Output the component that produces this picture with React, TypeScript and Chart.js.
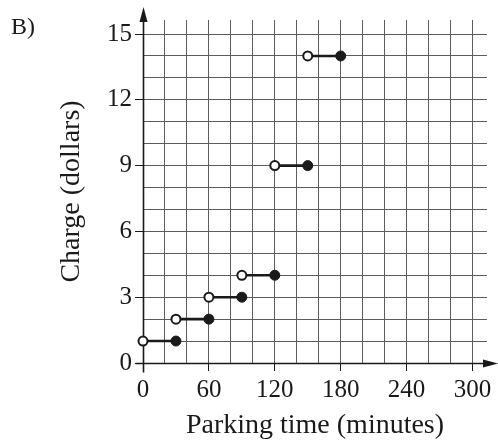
import React, { useEffect, useRef } from 'react';
import { Chart, registerables } from 'chart.js';

Chart.register(...registerables);

// ---- data ----
const startMinutes = [0, 30, 60, 90, 120, 150];
const endMinutes = [30, 60, 90, 120, 150, 180];
const charges = [1, 2, 3, 4, 9, 14];
const xTickLabels = [0, 60, 120, 180, 240, 300];
const yTickLabels = [0, 3, 6, 9, 12, 15];
const xGridStep = 20;
const yGridStep = 1;
const xGridLast = 300;
const yGridLast = 15;
const xMax = 313.2;
const yMax = 15.64;
const xTitle = 'Parking time (minutes)';
const yTitle = 'Charge (dollars)';
const panelLabel = 'B)';

const SERIF = '"Liberation Serif", "Times New Roman", serif';
const INK = '#1a1a1a';
const GRID = '#5c5c5c';

const axesPlugin = {
  id: 'axesArrows',
  beforeDatasetsDraw(chart: any) {
    const { ctx } = chart;
    const xs = chart.scales.x;
    const ys = chart.scales.y;
    const x0 = Math.round(xs.getPixelForValue(0)) + 0.5;
    const y0 = Math.round(ys.getPixelForValue(0)) + 0.5;
    ctx.save();
    ctx.strokeStyle = INK;
    ctx.fillStyle = INK;
    ctx.lineWidth = 1.6;
    // y axis
    ctx.beginPath();
    ctx.moveTo(x0, y0 + 9);
    ctx.lineTo(x0, 18);
    ctx.stroke();
    ctx.beginPath();
    ctx.moveTo(x0, 7);
    ctx.lineTo(x0 - 4, 22);
    ctx.lineTo(x0 + 4, 22);
    ctx.closePath();
    ctx.fill();
    // x axis
    ctx.beginPath();
    ctx.moveTo(x0 - 8, y0);
    ctx.lineTo(488, y0);
    ctx.stroke();
    ctx.beginPath();
    ctx.moveTo(498, y0);
    ctx.lineTo(483, y0 - 4);
    ctx.lineTo(483, y0 + 4);
    ctx.closePath();
    ctx.fill();
    ctx.restore();
  },
  afterDraw(chart: any) {
    const { ctx } = chart;
    ctx.save();
    ctx.fillStyle = INK;
    ctx.font = `24px ${SERIF}`;
    ctx.textBaseline = 'alphabetic';
    ctx.textAlign = 'left';
    ctx.fillText(panelLabel, 11, 34);
    ctx.restore();
  },
};

function gridTicks(step: number, last: number) {
  const out: any[] = [];
  for (let v = 0; v <= last + 1e-9; v += step) out.push({ value: Math.round(v * 1000) / 1000 });
  return out;
}

export default function App() {
  const ref = useRef<HTMLCanvasElement | null>(null);

  useEffect(() => {
    if (!ref.current) return;
    const segData: any[] = [];
    startMinutes.forEach((s, i) => {
      segData.push({ x: s, y: charges[i] });
      segData.push({ x: endMinutes[i], y: charges[i] });
      segData.push({ x: endMinutes[i], y: null });
    });
    const openPts = startMinutes.map((s, i) => ({ x: s, y: charges[i] }));
    const closedPts = endMinutes.map((e, i) => ({ x: e, y: charges[i] }));

    const chart = new Chart(ref.current, {
      type: 'line',
      data: {
        datasets: [
          {
            data: closedPts,
            showLine: false,
            pointRadius: 5,
            pointBackgroundColor: INK,
            pointBorderColor: INK,
            pointBorderWidth: 1,
            clip: false,
            order: 1,
          },
          {
            data: openPts,
            showLine: false,
            pointRadius: 4.5,
            pointBackgroundColor: '#ffffff',
            pointBorderColor: INK,
            pointBorderWidth: 2,
            clip: false,
            order: 1,
          },
          {
            data: segData,
            borderColor: INK,
            borderWidth: 2.6,
            pointRadius: 0,
            spanGaps: false,
            clip: false,
            order: 3,
          },
        ],
      },
      options: {
        responsive: false,
        animation: false,
        layout: { padding: { top: 20, right: 11, left: 0, bottom: 0 } },
        plugins: {
          legend: { display: false },
          tooltip: { enabled: false },
        },
        scales: {
          x: {
            type: 'linear',
            min: 0,
            max: xMax,
            border: { display: false },
            grid: {
              color: GRID,
              lineWidth: 1,
              tickLength: 8,
              tickColor: (c: any) => (xTickLabels.includes(c.tick?.value) ? INK : 'rgba(0,0,0,0)'),
            },
            ticks: {
              autoSkip: false,
              maxRotation: 0,
              color: INK,
              padding: 4,
              font: { family: SERIF, size: 25 },
              callback: (v: any) => (xTickLabels.includes(v) ? String(v) : ''),
            },
            afterBuildTicks: (s: any) => {
              s.ticks = gridTicks(xGridStep, xGridLast);
            },
            afterFit: (s: any) => {
              s.height = 79;
            },
            title: {
              display: true,
              text: xTitle,
              color: INK,
              font: { family: SERIF, size: 28 },
              padding: { top: -2, bottom: 0 },
            },
          },
          y: {
            type: 'linear',
            min: 0,
            max: yMax,
            border: { display: false },
            grid: {
              color: GRID,
              lineWidth: 1,
              tickLength: 8,
              tickColor: (c: any) => (yTickLabels.includes(c.tick?.value) ? INK : 'rgba(0,0,0,0)'),
            },
            ticks: {
              autoSkip: false,
              color: INK,
              padding: 3,
              font: { family: SERIF, size: 25 },
              callback: (v: any) => (yTickLabels.includes(v) ? String(v) : ''),
            },
            afterBuildTicks: (s: any) => {
              s.ticks = gridTicks(yGridStep, yGridLast);
            },
            afterFit: (s: any) => {
              s.width = 143;
            },
            title: {
              display: true,
              text: yTitle,
              color: INK,
              font: { family: SERIF, size: 28 },
              padding: { top: 55, bottom: 0 },
            },
          },
        },
      },
      plugins: [axesPlugin],
    });
    return () => chart.destroy();
  }, []);

  return (
    <div style={{ position: 'fixed', left: 0, top: 0, width: 498, height: 442, background: '#fff' }}>
      <canvas ref={ref} width={498} height={442} style={{ width: 498, height: 442, display: 'block' }} />
    </div>
  );
}
